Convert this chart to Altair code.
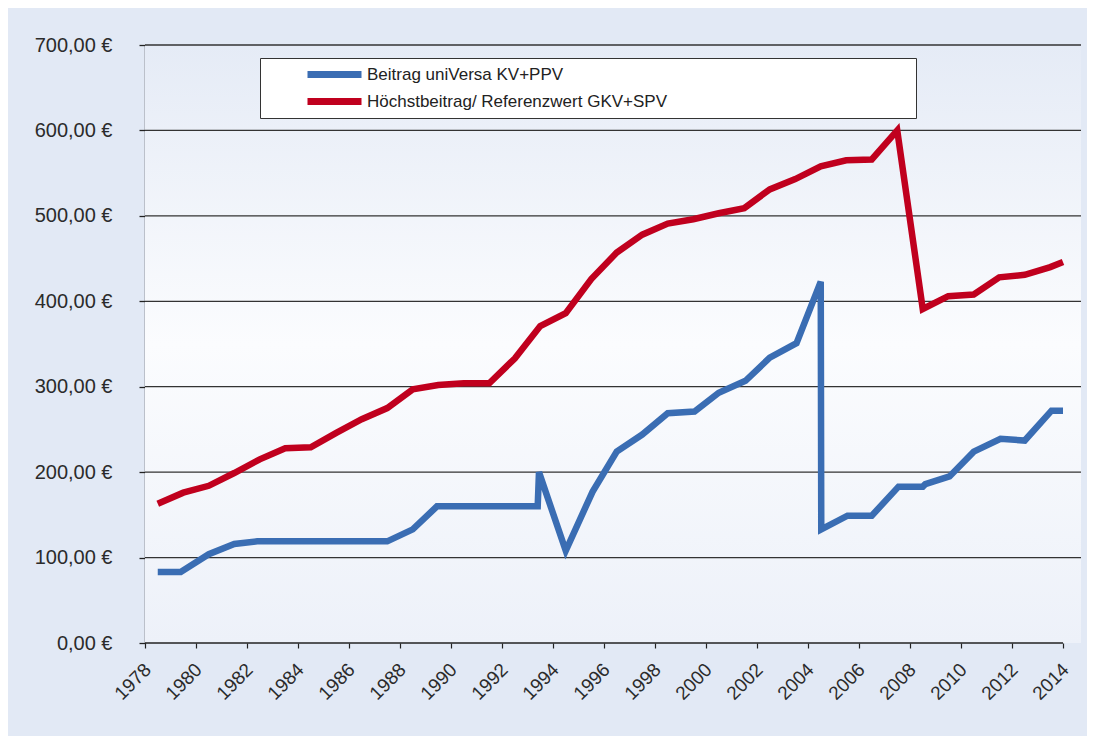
import altair as alt
import pandas as pd

# ---- data ----
blue_name = "Beitrag uniVersa KV+PPV"
red_name = "Höchstbeitrag/ Referenzwert GKV+SPV"

blue_years = [1978.5, 1979.4, 1980.5, 1981.5, 1982.4, 1983.5, 1984.5, 1985.5, 1986.5, 1987.5,
              1988.5, 1989.45, 1990.5, 1991.5, 1992.5, 1993.4, 1993.45, 1994.5, 1995.55, 1996.5,
              1997.5, 1998.5, 1999.55, 2000.5, 2001.55, 2002.5, 2003.55, 2004.5, 2004.52, 2005.55,
              2006.5, 2007.55, 2008.5, 2008.6, 2009.55, 2010.5, 2011.55, 2012.5, 2013.55, 2014.0]
blue_values = [83, 83, 104, 116, 119, 119, 119, 119, 119, 119,
               133, 160, 160, 160, 160, 160, 200, 108, 177, 224,
               244, 269, 271, 293, 307, 334, 351, 423, 133, 149,
               149, 183, 183, 186, 195, 224, 239, 237, 272, 272]

red_years = [1978.5, 1979.5, 1980.5, 1981.5, 1982.5, 1983.5, 1984.5, 1985.5, 1986.5, 1987.5,
             1988.5, 1989.5, 1990.5, 1991.5, 1992.5, 1993.5, 1994.5, 1995.5, 1996.5, 1997.5,
             1998.5, 1999.5, 2000.5, 2001.5, 2002.5, 2003.5, 2004.5, 2005.5, 2006.5, 2007.5,
             2008.5, 2009.5, 2010.5, 2011.5, 2012.5, 2013.5, 2014.0]
red_values = [163, 176, 184, 199, 215, 228, 229, 246, 262, 275,
              297, 302, 304, 304, 333, 371, 386, 426, 457, 478,
              491, 496, 503, 509, 531, 543, 558, 565, 566, 600,
              391, 406, 408, 428, 431, 440, 446]

x_tick_years = list(range(1978, 2015, 2))
y_tick_values = [0, 100, 200, 300, 400, 500, 600, 700]
grid_values = [100, 200, 300, 400, 500, 600, 700]
axis_start_year = [1978]
axis_end_year = [2014]

series_order = [blue_name, red_name]
series_colors = ["#3A6DB3", "#C0001E"]

# ---- tables ----
rows = []
for i, (yr, v) in enumerate(zip(blue_years, blue_values)):
    rows.append({"Jahr": yr, "Wert": v, "Serie": blue_name, "idx": i})
for i, (yr, v) in enumerate(zip(red_years, red_values)):
    rows.append({"Jahr": yr, "Wert": v, "Serie": red_name, "idx": i})
df = pd.DataFrame(rows)

axis_df = pd.DataFrame({"start": axis_start_year, "end": axis_end_year, "zero": [0]})
grid_df = pd.DataFrame({"v": grid_values})
bg_df = pd.DataFrame({"k": [0]})

FONT = "Liberation Sans"
W, H = 936, 598
x_scale = alt.Scale(domain=[1978, 2014.706], nice=False, zero=False)
y_scale = alt.Scale(domain=[0, 700], nice=False)

# one axis definition, shared by every layer so that the merged axes agree
x_axis = alt.Axis(values=x_tick_years, format="d", title=None, grid=False,
                  domain=False, tickColor="#222", tickSize=5, tickWidth=1.2,
                  labelAngle=-45, labelAlign="right", labelBaseline="top",
                  labelPadding=12, labelOffset=-4, labelFontSize=19, labelFont=FONT,
                  labelColor="#2b2b2b")
y_axis = alt.Axis(values=y_tick_values, title=None, grid=False,
                  domainColor="#222", domainWidth=1.4,
                  tickColor="#222", tickSize=6, tickWidth=1.3,
                  labelPadding=27, labelFontSize=20, labelFont=FONT,
                  labelColor="#2b2b2b",
                  labelExpr="replace(format(datum.value, '.2f'), '.', ',') + ' €'")

# legend labels are followed by non-breaking blanks so that the legend frame
# is as wide as in the reference (a zero-width char keeps them from being trimmed)
NBSP = "\u00a0"
ZWSP = "\u200b"
legend_label_expr = "pad(datum.label, 86, '" + NBSP + "') + '" + ZWSP + "'"

# plot-area gradient background
bg = alt.Chart(bg_df).mark_rect(
    fill=alt.Gradient(
        gradient="linear",
        stops=[alt.GradientStop(color="#e5ebf6", offset=0),
               alt.GradientStop(color="#fbfcfe", offset=0.5),
               alt.GradientStop(color="#edf1f9", offset=1)],
        x1=0, x2=0, y1=0, y2=1,
    )
).encode(
    x=alt.value(0), x2=alt.value("width"), y=alt.value(0), y2=alt.value("height")
)

grid = alt.Chart(grid_df).mark_rule(color="#333333", strokeWidth=1.3).encode(
    x=alt.value(0), x2=alt.value("width"),
    y=alt.Y("v:Q", scale=y_scale, axis=y_axis),
)

x_axis_line = alt.Chart(axis_df).mark_rule(color="#222", strokeWidth=1.4).encode(
    x=alt.X("start:Q", scale=x_scale, axis=x_axis), x2="end:Q",
    y=alt.Y("zero:Q", scale=y_scale, axis=y_axis),
)

lines = alt.Chart(df).mark_line(strokeWidth=6.5, strokeJoin="miter").encode(
    x=alt.X("Jahr:Q", scale=x_scale, axis=x_axis),
    y=alt.Y("Wert:Q", scale=y_scale, axis=y_axis),
    color=alt.Color("Serie:N",
                    scale=alt.Scale(domain=series_order, range=series_colors),
                    legend=alt.Legend(
                        title=None, orient="none", legendX=115, legendY=13,
                        direction="vertical",
                        fillColor="#ffffff", strokeColor="#333333",
                        padding=8, rowPadding=9, clipHeight=17,
                        symbolType="stroke", symbolSize=2916, symbolStrokeWidth=7,
                        symbolOffset=36, labelOffset=2,
                        labelFont=FONT, labelFontSize=17, labelColor="#222",
                        labelLimit=0, labelExpr=legend_label_expr)),
    order=alt.Order("idx:Q"),
)

chart = alt.layer(bg, grid, x_axis_line, lines).properties(
    width=W, height=H,
    background="#e2e9f5",
    padding={"left": 137, "top": 37, "right": 6, "bottom": 93},
    autosize=alt.AutoSizeParams(type="none"),
).configure_view(stroke=None)

chart.save("out.html", embed_options={"renderer": "svg", "actions": False})
